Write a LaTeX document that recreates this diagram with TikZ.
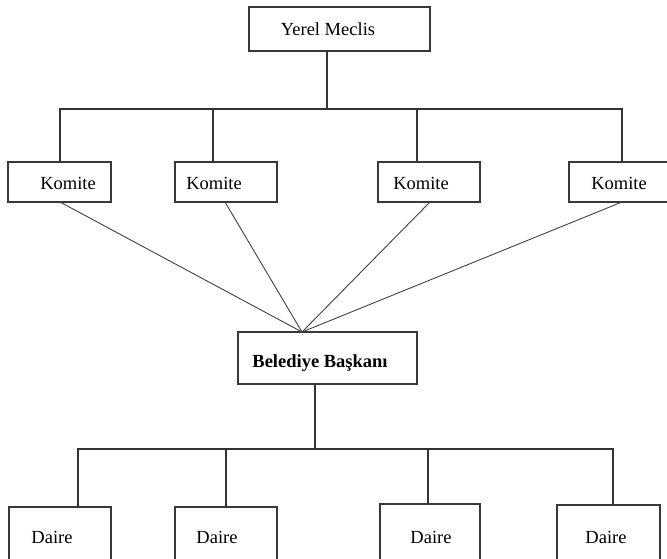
\documentclass[tikz,border=0pt]{standalone}
\usepackage{fontspec}
\setmainfont{Liberation Serif}
\begin{document}
\begin{tikzpicture}[x=1pt,y=-1pt,
  orgbox/.style={draw=black!78,line width=1.2pt,rectangle,inner sep=0pt},
  lbl/.style={font=\fontsize{18.5}{22}\selectfont,inner sep=0pt,anchor=base},
  wire/.style={draw=black!80,line width=1.1pt},
  spoke/.style={draw=black!75,line width=0.9pt}]
\useasboundingbox (0,0) rectangle (667,558);

% top council
\node[orgbox,minimum width=181pt,minimum height=44pt] (ym) at (339.5,29) {};
\node[lbl] (ymt) at (328,35) {Yerel Meclis};

% committees
\node[orgbox,minimum width=103pt,minimum height=40pt] (k1) at (59.5,182) {};
\node[orgbox,minimum width=102pt,minimum height=40pt] (k2) at (226,182) {};
\node[orgbox,minimum width=102pt,minimum height=40pt] (k3) at (429,182) {};
\node[orgbox,minimum width=102pt,minimum height=40pt] (k4) at (620,182) {};
\node[lbl] (k1t) at (68,189) {Komite};
\node[lbl] (k2t) at (214,189) {Komite};
\node[lbl] (k3t) at (421,189) {Komite};
\node[lbl] (k4t) at (619,189) {Komite};

% mayor
\node[orgbox,minimum width=179pt,minimum height=52pt] (bb) at (327.5,358) {};
\node[lbl,font=\fontsize{18.5}{22}\selectfont\bfseries] (bbt) at (320,367) {Belediye Ba\c{s}kan\i};

% departments
\node[orgbox,minimum width=102pt,minimum height=70pt] (d1) at (60,542) {};
\node[orgbox,minimum width=102pt,minimum height=70pt] (d2) at (226,542) {};
\node[orgbox,minimum width=100pt,minimum height=70pt] (d3) at (430,539) {};
\node[orgbox,minimum width=103pt,minimum height=70pt] (d4) at (608.5,540) {};
\node[lbl] (d1t) at (52,543) {Daire};
\node[lbl] (d2t) at (217,543) {Daire};
\node[lbl] (d3t) at (431,543) {Daire};
\node[lbl] (d4t) at (606,543) {Daire};

% tap points on the boxes and the two buses
\coordinate (ymo) at (327,51);
\coordinate (bus1) at (327,109);
\coordinate (k1i) at (60,162);  \coordinate (k2i) at (213,162);
\coordinate (k3i) at (417,162); \coordinate (k4i) at (622,162);
\coordinate (k1o) at (60,202);  \coordinate (k2o) at (225,202);
\coordinate (k3o) at (430,202); \coordinate (k4o) at (622,202);
\coordinate (bbi) at (302,332);
\coordinate (bbo) at (315,384);
\coordinate (bus2) at (315,449);
\coordinate (d1i) at (78,507);  \coordinate (d2i) at (226,507);
\coordinate (d3i) at (428,504); \coordinate (d4i) at (613,505);

% council to committees
\draw[wire] (ymo) -- (bus1);
\draw[wire] (k1i) |- (bus1) -| (k4i);
\draw[wire] (k2i) -- (k2i |- bus1);
\draw[wire] (k3i) -- (k3i |- bus1);

% committees to mayor
\draw[spoke] (k1o) -- (bbi);
\draw[spoke] (k2o) -- (bbi);
\draw[spoke] (k3o) -- (bbi);
\draw[spoke] (k4o) -- (bbi);

% mayor to departments
\draw[wire] (bbo) -- (bus2);
\draw[wire] (d1i) |- (bus2) -| (d4i);
\draw[wire] (d2i) -- (d2i |- bus2);
\draw[wire] (d3i) -- (d3i |- bus2);
\end{tikzpicture}
\end{document}
